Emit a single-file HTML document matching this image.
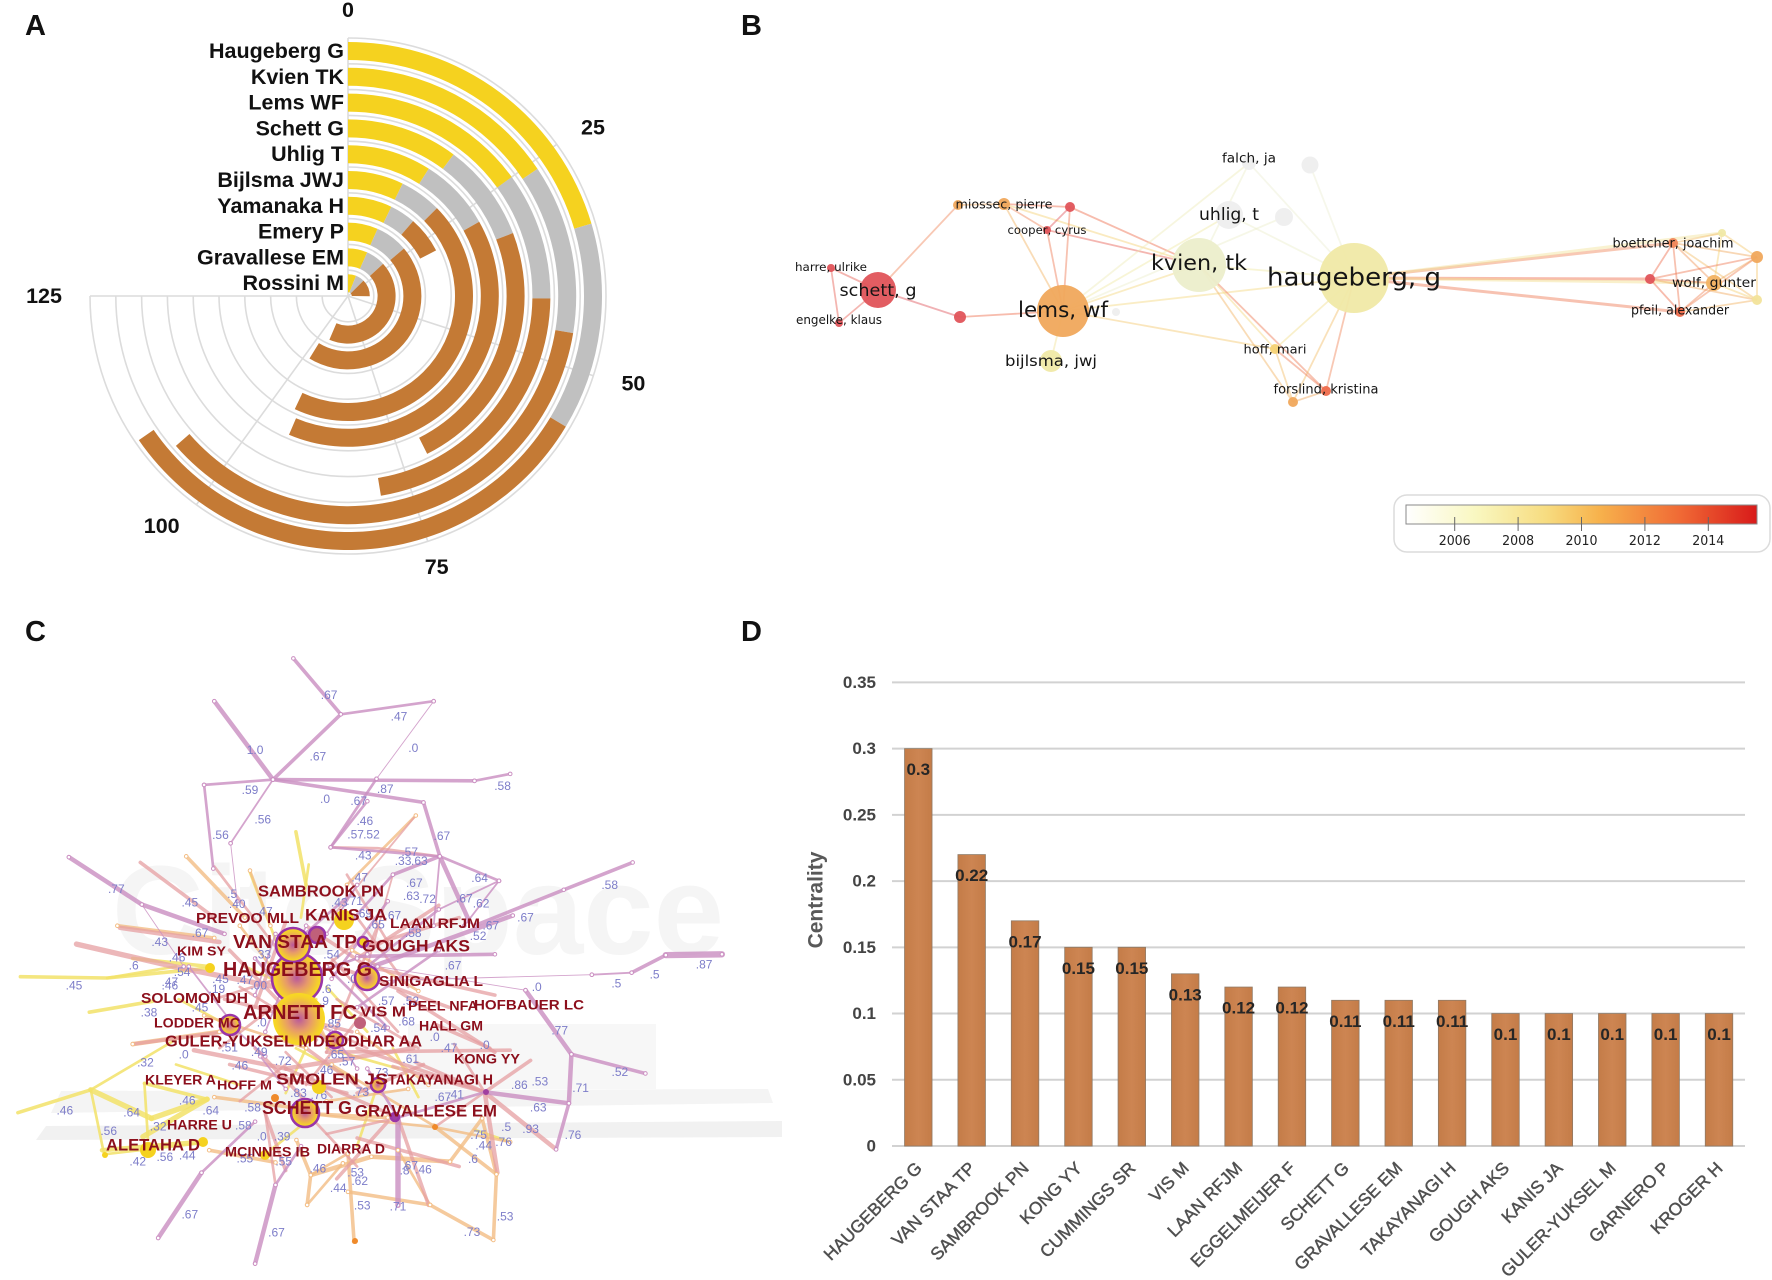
<!DOCTYPE html>
<html lang="en">
<head>
<meta charset="utf-8">
<title>Four-panel bibliometric figure</title>
<style>
html,body{margin:0;padding:0;background:#fff;}
svg{display:block;}
text{font-family:"Liberation Sans",sans-serif;}
.pl{font-size:29px;font-weight:bold;fill:#111;}
</style>
</head>
<body>
<svg id="fig" xmlns="http://www.w3.org/2000/svg" width="1772" height="1280" viewBox="0 0 1772 1280">
<defs>
<linearGradient id="yearGrad" x1="0" x2="1" y1="0" y2="0">
<stop offset="0" stop-color="#ffffff"/>
<stop offset=".2" stop-color="#f9f7c0"/>
<stop offset=".4" stop-color="#f7dc80"/>
<stop offset=".55" stop-color="#f7b24c"/>
<stop offset=".78" stop-color="#f06a35"/>
<stop offset="1" stop-color="#d81a1a"/>
</linearGradient>
<radialGradient id="burst">
<stop offset="0" stop-color="#b9589c"/>
<stop offset=".45" stop-color="#e79a6a"/>
<stop offset=".85" stop-color="#f5cf2c"/>
<stop offset="1" stop-color="#f8da20"/>
</radialGradient>
<linearGradient id="barGrad" x1="0" x2="1" y1="0" y2="0">
<stop offset="0" stop-color="#c47c48"/>
<stop offset=".5" stop-color="#cd8552"/>
<stop offset="1" stop-color="#c47c48"/>
</linearGradient>
</defs>
<text class="pl" x="25" y="35">A</text>
<text class="pl" x="741" y="35">B</text>
<text class="pl" x="25" y="641">C</text>
<text class="pl" x="741" y="641">D</text>
<g id="panelA"></g>
<g id="panelB"></g>
<g id="panelC">
<g>
<rect x="408" y="1024" width="248" height="65" fill="#f7f7f7"/>
<polygon points="51,1113 61,1091 768,1089 773,1103" fill="#f4f4f4"/>
<polygon points="36,1140 46,1126 782,1121 782,1137" fill="#f1f1f1"/>
<text x="112" y="954" font-size="126" font-weight="bold" fill="#f5f5f5" textLength="612" lengthAdjust="spacingAndGlyphs">CiteSpace</text>
</g>
</g>
<g id="panelD"></g>
</svg>
<script>
/* ===== Panel A values ===== */
var radialAuthors = ["Haugeberg G","Kvien TK","Lems WF","Schett G","Uhlig T","Bijlsma JWJ","Yamanaka H","Emery P","Gravallese EM","Rossini M"];
var radialYellow = [34,26,25,17,15,12,12,11,11,10];
var radialGrey = [22,20,17,15,13,9,7,12,11,11];
var radialBrown = [53,60,37,39,66,74,10,75,72,21];
var radialTicks = [0,25,50,75,100,125];

/* ===== Panel B network values ===== */
var vosNames = ["haugeberg, g","kvien, tk","lems, wf","schett, g","uhlig, t","","falch, ja","","bijlsma, jwj","miossec, pierre","","","cooper, cyrus","harre, ulrike","engelke, klaus","","hoff, mari","forslind, kristina","","boettcher, joachim","","","","wolf, gunter","","pfeil, alexander",""];
var vosLayoutX = [1354,1199,1063,878,1229,1284,1249,1310,1051,1004,958,1070,1047,831,839,960,1275,1326,1293,1673,1722,1757,1650,1714,1757,1680,1116];
var vosLayoutY = [278,265,311,290,215,217,163,165,361,204,205,207,230,268,323,317,349,391,402,243,233,257,279,283,300,312,312];
var vosWeight = [35,27,26,18,14,9,7,8.5,11,6,5,5,4,4,4,6,5,5,5,5,4,6,5,8,5,5,4];
var vosYear = [2007,2006,2011,2014,2004,2004,2004,2004,2007,2011,2011,2014,2014,2014,2014,2014,2009,2013,2011,2012,2007,2011,2014,2010.5,2007.5,2013,2004];
var vosEdges = [[3,10,2012],[3,13,2013.5],[3,14,2013.5],[13,14,2013.5],[3,15,2014],[15,2,2013],[10,9,2011],[9,11,2013],[9,12,2012],[9,1,2009],[11,12,2014],[11,1,2013],[12,1,2013.5],[12,2,2012.5],[11,2,2012.5],[9,2,2010.5],[2,1,2008.5],[2,4,2007],[2,6,2006.5],[2,0,2008.5],[2,16,2009.5],[2,8,2007.5],[2,5,2006],[1,0,2007],[1,16,2008.5],[1,17,2012.5],[1,18,2010.5],[1,6,2006],[0,4,2006],[0,6,2005.5],[0,7,2005.5],[0,16,2008],[0,17,2012],[0,18,2010],[16,17,2012.5],[16,18,2010],[17,18,2011],[0,19,2012],[0,20,2007.5],[0,22,2013],[0,23,2008],[0,25,2012.5],[19,20,2010],[19,21,2011],[19,22,2013],[19,23,2011.5],[19,24,2010],[19,25,2012.5],[20,21,2009.5],[20,23,2009],[21,22,2012.5],[21,23,2011],[21,24,2009.5],[21,25,2012],[22,23,2012.5],[22,24,2011],[22,25,2013],[23,24,2009],[23,25,2012],[24,25,2010.5]];
var vosColorYears = [2004,2006,2007,2009,2011,2012,2013,2014];
var vosColorHex = ["#eeeeee","#eceecb","#f0e9a6","#f6d274","#f0a85c","#f0865a","#ee6c4c","#e0545a"];
var legendYears = [2006,2008,2010,2012,2014];

/* ===== Panel C network values (layout units) ===== */
var csPurple = [[5,420,150,535,342],[4,575,45,668,182,535,342],[3,668,182,850,150],[1,850,150,738,340],[4,535,342,930,345],[3,930,345,1000,328],[3,400,355,535,342],[3,400,355,418,560],[2,535,342,452,498],[1,452,498,465,640],[3,738,340,648,508],[4,535,342,830,398],[4,830,398,862,530],[3,648,508,860,530],[3,720,395,648,508],[5,862,530,920,690],[4,862,530,770,575],[2,862,530,850,700],[3,978,590,862,530],[2,978,590,860,660],[2,978,590,910,700],[4,1240,545,1105,612,930,700],[5,135,532,278,648,440,720],[1,278,648,360,800],[7,1415,770,1305,772],[4,1305,772,1238,815],[2,1238,815,1160,820],[1,1160,820,730,835],[5,1030,858,1120,1015],[4,1120,1015,1265,1062],[5,1120,1015,1115,1135],[5,1115,1135,950,1108],[4,1115,1135,1090,1248],[1,1030,858,740,800],[4,970,770,700,775],[5,730,800,1005,675],[5,395,1305,310,1465],[3,395,1305,500,1180],[5,540,1335,500,1528],[3,540,1335,590,1240],[3,950,1108,780,1170],[6,780,1170,780,1385],[1,720,770,600,820],[3,860,660,720,800],[3,540,850,700,780],[2,440,930,520,1020],[2,510,1020,560,1100],[3,780,1170,720,1050],[2,650,960,700,1050],[2,370,800,450,930],[2,540,720,500,870],[2,700,600,640,720],[3,770,575,680,700],[3,760,640,650,830],[3,690,620,560,760],[3,640,800,760,950],[3,500,780,650,1000],[2,600,700,520,960],[3,700,900,860,760]];
var csSalmon = [[4,275,545,420,680],[6,150,745,340,800,540,850],[5,235,705,430,740],[3,420,555,545,760],[3,648,508,740,510,860,530],[3,680,575,770,760],[2,770,575,720,800],[2,815,430,650,680],[5,950,1108,1090,1248],[4,950,1108,1040,1030],[4,950,1108,770,1045],[5,950,1108,975,1305],[4,950,1108,815,1035],[3,950,1108,850,1195],[3,890,990,950,1108],[4,780,1170,840,1385],[4,700,1000,950,1108],[5,560,1050,810,1000],[5,380,1005,560,1050],[4,260,990,440,960],[4,640,1010,1000,1005],[4,780,1170,560,1050],[3,540,1335,520,1160],[3,640,1210,780,1170],[3,595,1150,700,1290],[4,450,1040,680,1110],[4,780,860,970,1010],[4,850,940,960,1000],[4,700,780,860,650],[4,720,800,970,870],[4,720,750,900,680],[4,600,700,720,800],[4,560,690,500,900],[4,450,760,620,980],[3,430,1000,700,740],[3,640,1010,740,700],[4,700,1110,830,1040],[4,600,1000,720,1110],[4,500,1000,600,1130],[3,650,780,780,960],[3,470,850,690,1020],[4,520,1160,560,1300],[4,900,1290,700,1220],[4,660,1320,760,1180],[4,660,800,880,900],[3,660,880,820,1000],[3,720,900,600,1090],[3,420,880,620,800],[3,560,1040,470,1130],[3,650,1120,560,1010],[4,440,880,690,960],[3,700,680,800,850],[3,550,900,720,1000]];
var csOrange = [[4,682,1352,843,1384,967,1470,973,1309,854,1194],[4,602,1384,609,1311,581,1225],[3,602,1384,672,1282],[4,694,1474,682,1258],[3,609,1311,682,1258],[5,882,1278,728,1266,609,1311],[4,882,1278,945,1172],[3,854,1194,1000,1230],[3,854,1194,600,1160],[4,973,1309,945,1172],[3,843,1384,780,1250],[3,490,565,530,700],[4,365,530,480,680],[4,230,700,420,730],[4,410,1250,540,1280],[4,600,1160,760,1170],[4,420,1120,600,1150],[3,700,960,840,1090],[3,545,740,640,980],[5,260,990,430,960],[3,820,860,690,760],[3,650,1040,850,1190],[3,815,430,680,600],[3,470,700,640,980],[3,400,920,600,1000],[3,640,1130,800,1100]];
var csYellow = [[4,178,1102,35,1158],[3,178,1102,343,980],[3,178,1102,204,1260,392,1233],[6,178,1102,297,1172],[3,283,1086,290,1225],[4,283,1086,406,1125],[6,406,1125,280,1217],[6,297,1172,406,1125],[4,40,825,210,828,400,805],[4,175,912,300,885],[4,580,470,600,600],[4,260,780,410,800],[3,605,550,590,680],[3,345,1040,470,1090],[3,770,1000,820,1120],[3,1000,1230,930,1200],[3,530,1250,600,1180],[3,480,800,620,880],[3,580,1000,700,1080],[3,490,570,560,800],[3,640,1000,780,1050],[5,200,1250,390,1230],[3,740,1090,700,1240],[3,600,1000,560,1110],[3,210,828,345,800],[3,350,880,470,960],[3,640,850,720,960]];
var csNumberText = [".67","1.0",".47",".67",".0",".58",".59",".0",".67",".87",".56",".46",".57",".52",".56",".67",".43",".57",".33",".63",".47",".64",".58",".77",".5",".45",".40",".67",".63",".72",".67",".62",".67",".67",".52",".67",".43",".6",".46",".67",".87",".5",".5",".0",".45",".47",".46",".54",".38",".45",".0",".32",".46",".86",".53",".71",".52",".77",".46",".64",".46",".64",".56",".32",".58",".58",".63",".93",".5",".76",".75",".44",".76",".6",".42",".56",".44",".0",".39",".55",".55",".46",".46",".67",".8",".53",".62",".44",".53",".71",".53",".73",".67",".67",".41",".67",".73",".73",".76",".83",".47",".0",".0",".61",".65",".72",".46",".51",".49",".0",".57",".85",".68",".54",".57",".52",".54",".58",".65",".69",".67",".43",".71",".47",".33",".00",".19",".47",".45",".6",".9",".0"];
var csNumberX = [645,500,782,623,810,985,490,637,703,755,515,715,697,728,432,866,712,803,790,822,705,940,1195,228,455,372,465,812,806,838,910,943,1030,962,937,392,313,262,347,888,1380,1283,1208,1052,145,333,333,357,292,392,360,285,470,1018,1058,1138,1215,1097,127,258,367,413,213,310,477,495,1055,1040,992,1123,938,948,987,927,270,323,367,513,553,480,556,623,830,803,793,697,705,663,710,780,990,925,372,542,893,868,745,707,625,585,880,950,852,805,658,555,637,450,508,513,680,652,797,742,757,805,650,810,738,713,770,665,695,518,515,507,425,480,432,640,635,690];
var csNumberY = [135,270,188,285,265,358,368,390,395,365,440,443,476,476,478,480,528,520,542,542,582,583,600,610,622,643,647,595,627,635,633,645,680,700,725,718,740,797,778,798,795,820,842,850,847,838,847,813,913,900,1015,1035,1043,1090,1082,1097,1058,957,1153,1158,1128,1153,1203,1192,1190,1145,1145,1198,1193,1213,1213,1238,1230,1272,1278,1267,1263,1217,1217,1270,1278,1295,1297,1288,1300,1305,1326,1343,1385,1388,1412,1450,1407,1452,1113,1120,1060,1107,1115,1110,1000,992,973,1027,1015,1032,1053,998,1010,937,1033,940,935,950,885,885,770,718,697,670,675,643,640,665,770,847,855,833,830,855,885,830];
var csNodeName = ["haugeberg","arnett","van-staa","kanis","sambrook","sinigaglia","lodder","deodhar","vis","kim","schett","takayanagi","smolen","orange-a","gravallese","hub-a","orange-b","aletaha","yellow-a","mcinnes","yellow-b","orange-c","gough"];
var csNodeX = [297,299,293,344,317,367,230,335,360,210,305,378,319,275,395,486,435,148,203,265,105,355,363];
var csNodeY = [978,1019,945,920,935,978,1025,1040,1023,968,1113,1085,1087,1098,1117,1092,1127,1150,1142,1155,1155,1241,942];
var csNodeSize = [25,26,17,10,8,12,10,8,6,5,14,7,7,4,4,3,3,8,5,5,3,3,5];
var csNodeRing = [1,0,1,0,1,1,1,1,0,0,1,1,0,0,1,0,0,0,0,0,0,0,1];
var csLabelText = ["ARNETT FC","HAUGEBERG G","VAN STAA TP","GOUGH AKS","KANIS JA","SAMBROOK PN","PREVOO MLL","LAAN RFJM","KIM SY","SINIGAGLIA L","SOLOMON DH","VIS M","PEEL NFA","HOFBAUER LC","LODDER MC","HALL GM","GULER-YUKSEL M","DEODHAR AA","KONG YY","KLEYER A","HOFF M","SMOLEN JS","TAKAYANAGI H","SCHETT G","GRAVALLESE EM","HARRE U","ALETAHA D","MCINNES IB","DIARRA D"];
var csLabelX = [243,223,233,362,305,258,196,390,177,379,141,360,408,474,154,419,165,313,454,145,217,276,388,262,355,167,106,225,317];
var csLabelY = [1013,970,942,946,915,892,919,923,951,982,999,1012,1006,1005,1023,1026,1042,1042,1059,1080,1085,1080,1080,1108,1111,1125,1145,1152,1149];
var csLabelLen = [114,149,124,108,82,126,103,90,49,104,107,46,70,110,86,64,147,109,66,71,55,112,105,90,142,65,94,85,68];
var csLabelFont = [20,20,18,17,17,15.5,14.5,14,13,14.5,14.5,15,13.5,13.5,13.5,13.5,16,16,13.5,13.5,13,16,15,18,17,13.5,17,13.5,13.5];

/* ===== Panel D values ===== */
var barCategories = ["HAUGEBERG G","VAN STAA TP","SAMBROOK PN","KONG YY","CUMMINGS SR","VIS M","LAAN RFJM","EGGELMEIJER F","SCHETT G","GRAVALLESE EM","TAKAYANAGI H","GOUGH AKS","KANIS JA","GULER-YUKSEL M","GARNERO P","KROGER H"];
var barValues = [0.3,0.22,0.17,0.15,0.15,0.13,0.12,0.12,0.11,0.11,0.11,0.1,0.1,0.1,0.1,0.1];
var barTickValues = [0,0.05,0.1,0.15,0.2,0.25,0.3,0.35];

var NS = "http://www.w3.org/2000/svg";
function mk(parent, tag, attrs, txt){
  var el = document.createElementNS(NS, tag);
  for (var k in attrs) el.setAttribute(k, attrs[k]);
  if (txt !== undefined) el.textContent = txt;
  parent.appendChild(el);
  return el;
}
function slug(s){ return s.toLowerCase().replace(/[^a-z0-9]+/g,'-').replace(/^-|-$/g,''); }

/* ---------- Panel A ---------- */
(function(){
  var g = document.getElementById('panelA');
  var cx = 348, cy = 296, R = 258, step = 25.8, band = 18, valMax = 125, degMax = 270;
  function ang(v){ return v / valMax * degMax * Math.PI / 180; }
  function px(r, v){ return cx + r * Math.sin(ang(v)); }
  function py(r, v){ return cy - r * Math.cos(ang(v)); }
  function sector(r1, r0, a, b){
    var large = (ang(b) - ang(a)) > Math.PI ? 1 : 0;
    return 'M' + px(r1,a) + ' ' + py(r1,a) + 'A' + r1 + ' ' + r1 + ' 0 ' + large + ' 1 ' + px(r1,b) + ' ' + py(r1,b) +
           'L' + px(r0,b) + ' ' + py(r0,b) + 'A' + r0 + ' ' + r0 + ' 0 ' + large + ' 0 ' + px(r0,a) + ' ' + py(r0,a) + 'Z';
  }
  for (var i = 0; i < radialAuthors.length; i++){
    var r = R - i * step;
    var ring = mk(g, 'path', {d:'M' + px(r,0) + ' ' + py(r,0) + 'A' + r + ' ' + r + ' 0 1 1 ' + px(r,valMax) + ' ' + py(r,valMax), fill:'none', stroke:'#dcdcdc', 'stroke-width':1.6});
    
    
  }
  radialTicks.forEach(function(t){
    var sp = mk(g, 'line', {x1:cx, y1:cy, x2:px(R,t), y2:py(R,t), stroke:'#dcdcdc', 'stroke-width':1.6});
    
    
  });
  radialAuthors.forEach(function(name, i){
    var rOut = 254 - i * step, rIn = rOut - band;
    var y = radialYellow[i], gr = y + radialGrey[i], b = gr + radialBrown[i];
    var s1 = mk(g, 'path', {d:sector(rOut, rIn, 0, y), fill:'#f5d21f'});
    
    
    var s2 = mk(g, 'path', {d:sector(rOut, rIn, y, gr), fill:'#c0c0c0'});
    
    
    var s3 = mk(g, 'path', {d:sector(rOut, rIn, gr, b), fill:'#c47a35'});
    
    
    var lb = mk(g, 'text', {x:344, y:cy - rOut + 9, 'text-anchor':'end', 'dominant-baseline':'central', 'font-size':21.5, 'font-weight':'bold', fill:'#111'}, name);
    
    
  });
  function tickDx(t){ return t === 25 ? 5.5 : (t === 50 ? 2 : (t === 100 ? -13.5 : 0)); }
  function tickDy(t){ return t === 25 ? 5.5 : (t === 50 ? -4.5 : (t === 100 ? -8 : (t === 75 ? -2 : 0))); }
  radialTicks.forEach(function(t){
    var rr = t === 0 ? R + 28 : (t === 125 ? R + 46 : (t === 25 ? R + 38 : (t === 50 ? R + 40 : (t === 75 ? R + 29 : R + 36))));
    var tl = mk(g, 'text', {x:px(rr,t) + tickDx(t), y:py(rr,t) + tickDy(t), 'text-anchor':'middle', 'dominant-baseline':'central', 'font-size':21.5, 'font-weight':'bold', fill:'#111'}, String(t));
    
    
  });
})();

/* ---------- Panel B ---------- */
(function(){
  var g = document.getElementById('panelB');
  function hex(h){ return [parseInt(h.substr(1,2),16),parseInt(h.substr(3,2),16),parseInt(h.substr(5,2),16)]; }
  function yearColor(y){
    var n = vosColorYears.length;
    if (y <= vosColorYears[0]) return vosColorHex[0];
    if (y >= vosColorYears[n-1]) return vosColorHex[n-1];
    for (var i = 0; i < n-1; i++){
      if (y <= vosColorYears[i+1]){
        var t = (y - vosColorYears[i]) / (vosColorYears[i+1] - vosColorYears[i]);
        var a = hex(vosColorHex[i]), b = hex(vosColorHex[i+1]);
        return 'rgb(' + Math.round(a[0]+(b[0]-a[0])*t) + ',' + Math.round(a[1]+(b[1]-a[1])*t) + ',' + Math.round(a[2]+(b[2]-a[2])*t) + ')';
      }
    }
  }
  vosEdges.forEach(function(e){
    var ln = mk(g, 'line', {x1:vosLayoutX[e[0]], y1:vosLayoutY[e[0]], x2:vosLayoutX[e[1]], y2:vosLayoutY[e[1]], stroke:yearColor(e[2]), 'stroke-width':(e[0] === 0 && e[1] >= 19) ? 3 : 1.8, opacity:.45});
    
    
  });
  vosNames.forEach(function(n, i){
    var c = mk(g, 'circle', {cx:vosLayoutX[i], cy:vosLayoutY[i], r:vosWeight[i], fill:yearColor(vosYear[i]), opacity:.95});
    
    
  });
  var sizes = {"haugeberg, g":[25,174],"kvien, tk":[21,96],"lems, wf":[21,90],"schett, g":[17,77],"uhlig, t":[17,60],"falch, ja":[13,54],"bijlsma, jwj":[15.5,92],"miossec, pierre":[12.5,97],"cooper, cyrus":[11.5,79],"harre, ulrike":[11.5,72],"engelke, klaus":[12,86],"hoff, mari":[12.5,63],"forslind, kristina":[13,105],"boettcher, joachim":[13,121],"wolf, gunter":[13.5,84],"pfeil, alexander":[13,98]};
  var offs = {"kvien, tk":-2,"haugeberg, g":-1,"falch, ja":-4,"schett, g":1,"lems, wf":-1,"engelke, klaus":-3,"harre, ulrike":-1,"forslind, kristina":-1,"pfeil, alexander":-1,"boettcher, joachim":1};
  vosNames.forEach(function(n, i){
    if (!n) return;
    var s = sizes[n];
    var tx = mk(g, 'text', {x:vosLayoutX[i], y:vosLayoutY[i] + (offs[n] || 0), 'text-anchor':'middle', 'dominant-baseline':'central', 'font-size':s[0], fill:'#151515', textLength:s[1], lengthAdjust:'spacingAndGlyphs', style:'font-family:"DejaVu Sans",sans-serif'}, n);
    
    
  });
  var box = mk(g, 'rect', {x:1394, y:495, width:376, height:57, rx:13, fill:'#fff', stroke:'#dcdcdc', 'stroke-width':1.5});
  
  
  var bar = mk(g, 'rect', {x:1406, y:505, width:351, height:19, fill:'url(#yearGrad)', stroke:'#8a8a8a', 'stroke-width':1});
  
  
  function legendX(y){ return 1454.7 + (y - 2006) * 31.7; }
  legendYears.forEach(function(y){
    var tk = mk(g, 'line', {x1:legendX(y), x2:legendX(y), y1:517, y2:531, stroke:'#666', 'stroke-width':1});
    
    
    var lb = mk(g, 'text', {x:legendX(y), y:541, 'text-anchor':'middle', 'dominant-baseline':'central', 'font-size':13.5, fill:'#222', style:'font-family:"DejaVu Sans",sans-serif', textLength:32, lengthAdjust:'spacingAndGlyphs'}, String(y));
    
    
  });
})();

/* ---------- Panel C ---------- */
(function(){
  var g = document.getElementById('panelC');
  function sx(v){ return v / 1.96; }
  function sy(v){ return 640 + v / 2.45; }
  function drawSet(set, color, op, name){
    set.forEach(function(p){
      var d = '';
      for (var i = 1; i < p.length; i += 2) d += (i === 1 ? 'M' : 'L') + sx(p[i]).toFixed(1) + ' ' + sy(p[i+1]).toFixed(1);
      var el = mk(g, 'path', {d:d, fill:'none', stroke:color, 'stroke-width':p[0] * 0.9, opacity:op, 'stroke-linecap':'round', 'stroke-linejoin':'round'});
      
      
    });
  }
  function drawJoints(set, color){
    set.forEach(function(p){
      for (var i = 1; i < p.length; i += 2){
        var j = mk(g, 'circle', {cx:sx(p[i]), cy:sy(p[i+1]), r:1.8, fill:'#fff', stroke:color, 'stroke-width':1});
        
        
      }
    });
  }
  drawSet(csYellow, '#f2e268', .85, 'cocitation-link-yellow');
  drawSet(csOrange, '#f3bd84', .8, 'cocitation-link-orange');
  drawSet(csSalmon, '#e59fa2', .75, 'cocitation-link-salmon');
  drawSet(csPurple, '#cb90c2', .82, 'cocitation-link-purple');
  drawJoints(csPurple, '#cb90c2');
  drawJoints(csOrange, '#f3bd84');
  csNumberText.forEach(function(t, i){
    var n = mk(g, 'text', {x:sx(csNumberX[i]), y:sy(csNumberY[i]), 'text-anchor':'middle', 'dominant-baseline':'central', 'font-size':12, fill:'#7d7dc9'}, t);
    
    
  });
  csNodeName.forEach(function(n, i){
    var big = csNodeSize[i] >= 6;
    var fill = big ? 'url(#burst)' : (csNodeSize[i] === 5 || csNodeName[i].indexOf('yellow') === 0 ? '#f5d21f' : (csNodeName[i].indexOf('orange') === 0 ? '#ef8a2a' : '#a040a0'));
    if (n === 'vis' || n === 'sambrook') fill = '#c0607a';
    if (n === 'kanis' || n === 'aletaha' || n === 'smolen') fill = '#f5d21f';
    var c = mk(g, 'circle', {cx:csNodeX[i], cy:csNodeY[i], r:csNodeSize[i], fill:fill, stroke:csNodeRing[i] ? '#9a35a8' : 'none', 'stroke-width':csNodeRing[i] ? 2.6 : 0});
    
    
  });
  csLabelText.forEach(function(t, i){
    var l = mk(g, 'text', {x:csLabelX[i], y:csLabelY[i], 'dominant-baseline':'central', 'font-size':csLabelFont[i], 'font-weight':'bold', fill:'#8c0f1c', textLength:csLabelLen[i], lengthAdjust:'spacingAndGlyphs'}, t);
    
    
  });
})();

/* ---------- Panel D ---------- */
(function(){
  var g = document.getElementById('panelD');
  var y0 = 1146, yTop = 682.4, vMax = 0.35, xL = 891.6, xR = 1745.7, barW = 27.5;
  function yScale(v){ return y0 - (v / vMax) * (y0 - yTop); }
  function xScale(i){ return xL + (i + 0.5) * (xR - xL) / barCategories.length; }
  barTickValues.forEach(function(t){
    var ln = mk(g, 'line', {x1:892, x2:1745, y1:yScale(t), y2:yScale(t), stroke:'#d2d2d2', 'stroke-width':2});
    
    
    var lb = mk(g, 'text', {x:876, y:yScale(t), 'text-anchor':'end', 'dominant-baseline':'central', 'font-size':17, 'font-weight':'bold', fill:'#444'}, String(t));
    
    
  });
  var title = mk(g, 'text', {x:0, y:0, transform:'translate(816 900) rotate(-90)', 'text-anchor':'middle', 'dominant-baseline':'central', 'font-size':21, 'font-weight':'bold', fill:'#595959'}, 'Centrality');
  
  
  barCategories.forEach(function(c, i){
    var x = xScale(i), y = yScale(barValues[i]);
    var r = mk(g, 'rect', {x:x - barW/2, y:y, width:barW, height:y0 - y, fill:'url(#barGrad)', stroke:'#8f7a66', 'stroke-width':.8});
    
    
    var v = mk(g, 'text', {x:x, y:y + 21, 'text-anchor':'middle', 'dominant-baseline':'central', 'font-size':17, 'font-weight':'bold', fill:'#262626'}, String(barValues[i]));
    
    
    var xl = mk(g, 'text', {x:0, y:0, transform:'translate(' + (x + 0.5) + ' 1165) rotate(-45)', 'text-anchor':'end', 'dominant-baseline':'central', 'font-size':17.5, fill:'#505050', stroke:'#505050', 'stroke-width':.45}, c);
    
    
  });
})();
</script>
</body>
</html>
